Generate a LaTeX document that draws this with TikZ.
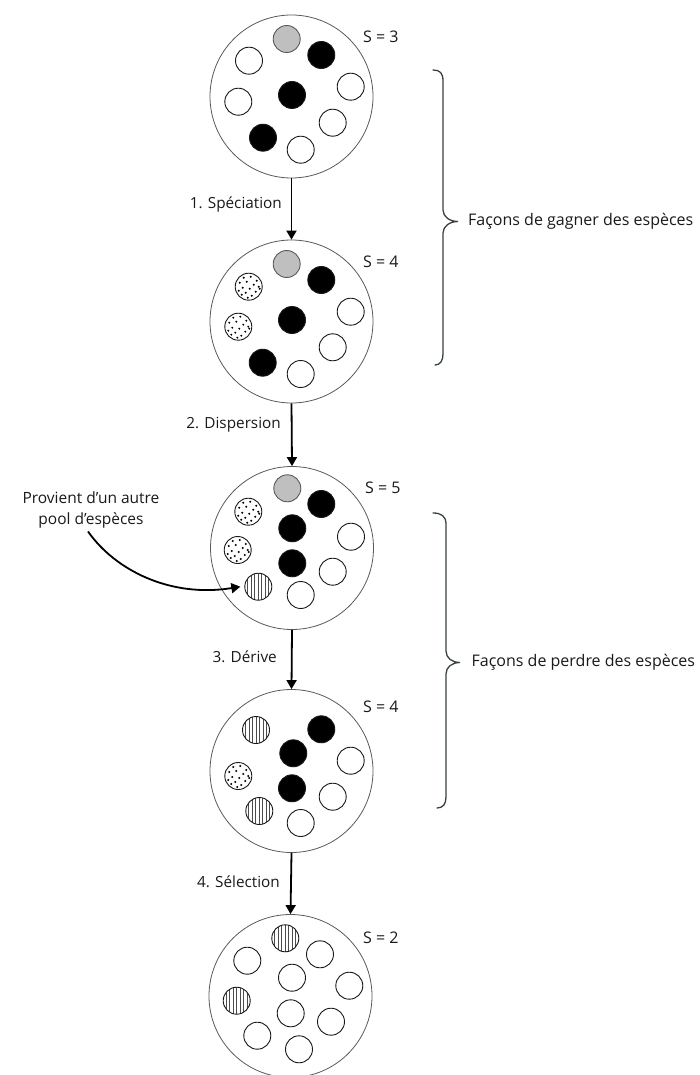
\documentclass[tikz,border=0pt]{standalone}
\usepackage{fontspec}
\setmainfont{Open Sans}
\usetikzlibrary{arrows.meta}
\definecolor{ink}{rgb}{0.10,0.10,0.10}
\definecolor{rim}{rgb}{0.35,0.35,0.35}
\definecolor{greyfill}{rgb}{0.75,0.75,0.75}
\definecolor{bracecol}{rgb}{0.22,0.26,0.22}
\definecolor{hatch}{rgb}{0.30,0.30,0.30}

\tikzset{
  pool/.style={circle, draw=rim, line width=0.8pt, minimum size=163pt, inner sep=0pt},
  sp/.style={circle, draw=ink, line width=0.9pt, minimum size=27pt, inner sep=0pt},
  whitesp/.style={sp, fill=white},
  blacksp/.style={sp, fill=black},
  greysp/.style={sp, fill=greyfill, draw=rim},
  dotsp/.style={sp, fill=white, path picture={
      \foreach \a/\b in {-5/9, 2/10, 8/6, -9/4, -2/5, 5/2, 10/0, -6/-1, 1/-2,
                         7/-5, -10/-4, -3/-6, 3/-9, -7/-8, -1/-11, 11/-2}
        \fill[black] ([xshift=\a pt, yshift=\b pt]path picture bounding box.center) circle (1.1pt);}},
  stripesp/.style={sp, fill=white, path picture={
      \foreach \a in {-10.5,-7,...,10.5}
        \draw[hatch, line width=0.7pt] ([xshift=\a pt]path picture bounding box.south)
              -- ([xshift=\a pt]path picture bounding box.north);}},
  flow/.style={draw=black, line width=1.8pt, -{Triangle[width=10pt,length=9pt]}},
  lbl/.style={text=ink, inner sep=0pt},
  big/.style={lbl, font=\fontsize{16}{19}\selectfont},
  mid/.style={lbl, font=\fontsize{15.3}{18}\selectfont},
  note/.style={lbl, font=\fontsize{15.5}{21}\selectfont},
  bracepath/.style={draw=bracecol, line width=1.3pt, line cap=round}
}

\begin{document}
\begin{tikzpicture}[x=1pt, y=-1pt]
\useasboundingbox (0,0) rectangle (699,1075);

% ---- pool 1 : S = 3
\node[pool] (p1) at (291.5,96.5) {};
\node[greysp]  (a1) at (286.7,39) {};
\node[blacksp] (a2) at (321.3,55) {};
\node[whitesp] (a3) at (249,60.7) {};
\node[whitesp] (a4) at (350.7,86.7) {};
\node[whitesp] (a5) at (238.3,101.7) {};
\node[blacksp] (a6) at (292,95) {};
\node[whitesp] (a7) at (332.7,122.7) {};
\node[blacksp] (a8) at (263,137.7) {};
\node[whitesp] (a9) at (300.7,149.7) {};
\node[big, anchor=west] (s1) at (363,37) {S = 3};

% ---- pool 2 : S = 4
\node[pool] (p2) at (291.5,321.5) {};
\node[greysp]  (b1) at (286.7,264) {};
\node[blacksp] (b2) at (321.3,280) {};
\node[dotsp]   (b3) at (248.7,286.7) {};
\node[whitesp] (b4) at (350.7,311.7) {};
\node[dotsp]   (b5) at (238.3,326.7) {};
\node[blacksp] (b6) at (292,320) {};
\node[whitesp] (b7) at (332.7,347.3) {};
\node[blacksp] (b8) at (262.7,362.7) {};
\node[whitesp] (b9) at (300.7,374) {};
\node[big, anchor=west] (s2) at (363,262) {S = 4};

% ---- pool 3 : S = 5
\node[pool] (p3) at (292,548) {};
\node[greysp]   (c1) at (287.3,488.3) {};
\node[blacksp]  (c2) at (321.3,504) {};
\node[dotsp]    (c3) at (248.3,511.7) {};
\node[blacksp]  (c4) at (292.3,528.3) {};
\node[whitesp]  (c5) at (351,536.7) {};
\node[dotsp]    (c6) at (237.7,550) {};
\node[blacksp]  (c7) at (292.3,563.3) {};
\node[whitesp]  (c8) at (332.7,571.7) {};
\node[stripesp] (c9) at (258.3,586.7) {};
\node[whitesp]  (c10) at (300.7,595) {};
\node[big, anchor=west] (s3) at (365,488) {S = 5};

% ---- pool 4 : S = 4
\node[pool] (p4) at (291.5,771) {};
\node[stripesp] (d1) at (256,730) {};
\node[blacksp]  (d2) at (321.3,729.3) {};
\node[blacksp]  (d3) at (293.3,753.3) {};
\node[whitesp]  (d4) at (350.7,760.7) {};
\node[dotsp]    (d5) at (238.3,776) {};
\node[blacksp]  (d6) at (292,788.3) {};
\node[whitesp]  (d7) at (332.7,796.7) {};
\node[stripesp] (d8) at (259.3,811) {};
\node[whitesp]  (d9) at (300.7,823) {};
\node[big, anchor=west] (s4) at (363,707) {S = 4};

% ---- pool 5 : S = 2
\node[pool] (p5) at (290.5,996) {};
\node[stripesp] (e1) at (285.3,938.3) {};
\node[whitesp]  (e2) at (320,954.3) {};
\node[whitesp]  (e3) at (247.3,960.7) {};
\node[whitesp]  (e4) at (292,977.7) {};
\node[whitesp]  (e5) at (349.3,985.7) {};
\node[stripesp] (e6) at (236.7,1000.7) {};
\node[whitesp]  (e7) at (290.7,1013.3) {};
\node[whitesp]  (e8) at (331,1021.7) {};
\node[whitesp]  (e9) at (257.3,1035.7) {};
\node[whitesp]  (e10) at (299,1049.3) {};
\node[big, anchor=west] (s5) at (363,938) {S = 2};

% ---- process arrows
\draw[flow] (p1.south) -- (p2.north);
\draw[flow] (p2.south) -- (p3.north);
\draw[flow] (p3.south) -- (p4.north);
\draw[flow] (p4.south) -- (p5.north);
\node[mid, anchor=east] (t1) at (282,204) {1. Spéciation};
\node[mid, anchor=east] (t2) at (281,425) {2. Dispersion};
\node[mid, anchor=east] (t3) at (277,657) {3. Dérive};
\node[mid, anchor=east] (t4) at (280,882) {4. Sélection};

% ---- immigrant from another pool
\node[note, align=center] (src) at (91,510) {Provient d’un autre\\pool d’espèces};
\draw[flow] ([xshift=-3pt, yshift=-3pt]src.south) .. controls (115,570) and (170,598) .. ([xshift=-4pt]c9.west);

% ---- braces
\draw[bracepath] (433,70) .. controls (440,70) and (443,73) .. (443,81)
  -- (443,210) .. controls (443,217) and (450,221.5) .. (458,221.5)
  .. controls (450,221.5) and (443,226) .. (443,233)
  -- (443,354) .. controls (443,361) and (440,365) .. (435,365);
\node[big, anchor=west] (g) at (468,221.5) {Façons de gagner des espèces};

\draw[bracepath] (433,513) .. controls (441,513) and (446,516) .. (446,524)
  -- (446,651) .. controls (446,658) and (452,662.5) .. (460,662.5)
  .. controls (452,662.5) and (446,667) .. (446,674)
  -- (446,797) .. controls (446,804) and (443,808) .. (437,808);
\node[big, anchor=west] (l) at (471.5,662.5) {Façons de perdre des espèces};
\end{tikzpicture}
\end{document}
